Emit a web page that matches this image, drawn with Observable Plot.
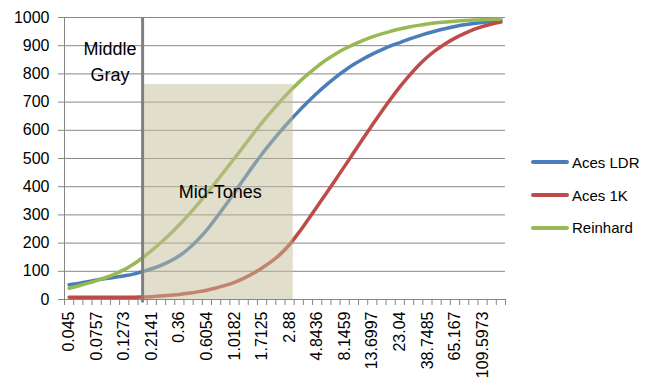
<!DOCTYPE html>
<html><head><meta charset="utf-8">
<script src="https://cdn.jsdelivr.net/npm/d3@7"></script>
<script src="https://cdn.jsdelivr.net/npm/@observablehq/plot@0.6"></script>
<style>
body{margin:0;background:#fff;font-family:"Liberation Sans",Arial,sans-serif;}
#wrap{position:relative;width:657px;height:391px;}
#legend{position:absolute;left:531px;top:146px;}
.item{display:flex;align-items:center;height:32.7px;font-size:15px;color:#000;white-space:nowrap;}
.sw{width:38px;height:4px;border-radius:2px;margin-right:3px;}
</style></head><body><div id="wrap"></div><script>
// Category tick labels (every third category of 48 quarter-stop exposures)
const xLabels = ["0.045","0.0757","0.1273","0.2141","0.36","0.6054","1.0182","1.7125","2.88","4.8436","8.1459","13.6997","23.04","38.7485","65.167","109.5973"];
const categoryCount = 48;
const labelEvery = 3;

// Series values, one per category
const acesLDR = [52,57,63,69,74,79,84,90,99,109,121,136,155,180,211,247,289,333,379,426,472,516,557,596,633,668,701,732,761,788,812,834,853,870,885,899,911,923,934,944,953,961,968,974,979,983,987,990];
const aces1K = [8,8,8,8,8,8,8,8,9,10,12,15,18,22,27,33,41,50,61,75,92,112,134,161,195,237,283,330,377,425,473,522,571,619,666,711,754,793,829,860,886,908,927,943,957,968,977,984];
const reinhard = [40,48,57,67,78,91,106,125,148,174,202,232,265,300,337,376,417,459,501,543,586,627,666,703,738,770,799,826,850,871,889,905,919,931,942,951,959,966,972,977,981,984,987,989,991,992,994,995];

const seriesNames = ["Aces LDR","Aces 1K","Reinhard"];
const seriesColors = ["#4a7ebb","#be4b48","#98b954"];
const seriesValues = [acesLDR, aces1K, reinhard];

const yTicks = [0,100,200,300,400,500,600,700,800,900,1000];
const middleGray = [8];
const midTones = [{x1: 8.15, x2: 24.4, y1: 0, y2: 762}];
const notes = [
  {text: "Middle", x: 4.45, y: 886},
  {text: "Gray", x: 4.45, y: 795},
  {text: "Mid-Tones", x: 16.45, y: 380}
];

const rows = [];
seriesValues.forEach((vals, s) => vals.forEach((v, i) => rows.push({i, v, s: seriesNames[s]})));
const labelTicks = xLabels.map((_, k) => k * labelEvery);
const boundaries = d3.range(categoryCount + 1).map(k => k - 0.5);

const chart = Plot.plot({
  width: 657, height: 391,
  marginLeft: 64, marginRight: 152, marginTop: 17, marginBottom: 92,
  style: {fontFamily: "Liberation Sans, Arial, sans-serif", fontSize: "15px", color: "#000", background: "#fff"},
  x: {domain: [-0.5, categoryCount - 0.5]},
  y: {domain: [0, 1000]},
  color: {domain: seriesNames, range: seriesColors},
  marks: [
    Plot.gridY(yTicks, {stroke: "#868686", strokeOpacity: 1}),
    Plot.axisY(yTicks, {tickSize: 6, tickPadding: 9, tickFormat: d => String(d), stroke: "#868686", fill: "#000", fontSize: 16, label: null}),
    Plot.axisX(boundaries, {tickSize: 6, tickFormat: () => "", stroke: "#868686", label: null}),
    Plot.axisX(labelTicks, {tickSize: 0, tickPadding: 12, tickRotate: -90, tickFormat: d => xLabels[d / labelEvery], fill: "#000", fontSize: 16, label: null}),
    Plot.line(rows, {x: "i", y: "v", z: "s", stroke: "s", strokeWidth: 3.5, curve: "monotone-x", strokeLinecap: "round"}),
    Plot.rect(midTones, {x1: "x1", x2: "x2", y1: "y1", y2: "y2", fill: "#c4bd97", fillOpacity: 0.5}),
    Plot.ruleY([0], {stroke: "#868686"}),
    Plot.ruleX([-0.5], {stroke: "#868686"}),
    Plot.ruleX(middleGray, {y1: -12, y2: 1000, stroke: "#808080", strokeWidth: 3}),
    Plot.text(notes, {x: "x", y: "y", text: "text", fontSize: 18, fill: "#000", textAnchor: "middle"})
  ]
});
const wrap = document.getElementById("wrap");
wrap.appendChild(chart);
const legend = document.createElement("div");
legend.id = "legend";
seriesNames.forEach((n, k) => {
  const it = document.createElement("div"); it.className = "item";
  const sw = document.createElement("div"); sw.className = "sw"; sw.style.background = seriesColors[k];
  const t = document.createElement("span"); t.textContent = n;
  it.appendChild(sw); it.appendChild(t); legend.appendChild(it);
});
wrap.appendChild(legend);
</script></body></html>
